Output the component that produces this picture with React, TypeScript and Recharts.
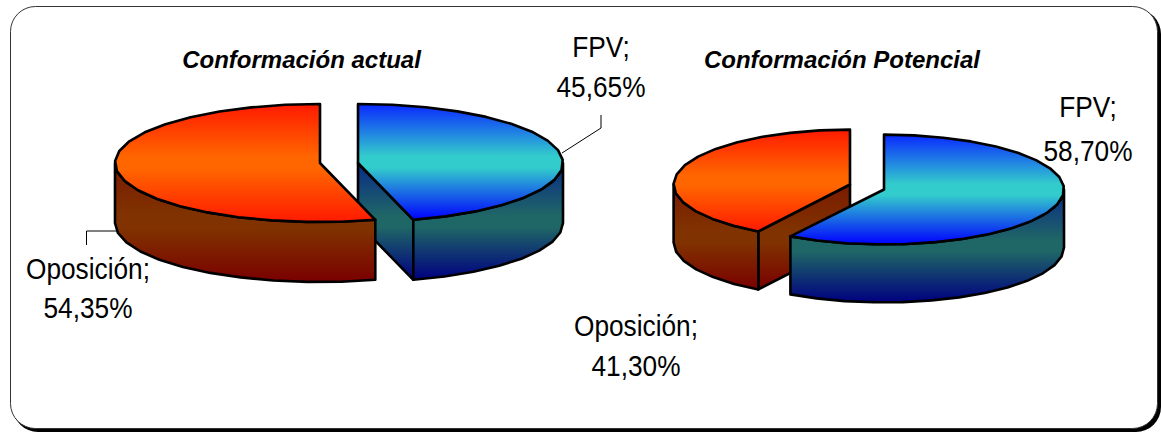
import React from "react";
import { PieChart, Pie } from "recharts";

const actualNames = ["FPV", "Oposición"];
const actualValues = [45.65, 54.35];
const potentialNames = ["Oposición", "FPV"];
const potentialValues = [41.3, 58.7];

const actualData = actualNames.map((name, i) => ({ name, value: actualValues[i] }));
const potentialData = potentialNames.map((name, i) => ({ name, value: potentialValues[i] }));

const TOP_FILL: any = { FPV: "url(#blueTop)", "Oposición": "url(#orangeTop)" };
const SIDE_FILL: any = { FPV: "url(#blueSide)", "Oposición": "url(#orangeSide)" };
const FONT = "'Liberation Sans', Arial, sans-serif";

// clockwise degrees from 12 o'clock -> point on the flattened ellipse
const pt = (cx: number, cy: number, rx: number, ry: number, deg: number) => {
  const r = (deg * Math.PI) / 180;
  return [cx + rx * Math.sin(r), cy - ry * Math.cos(r)];
};

const arc = (cx: number, cy: number, rx: number, ry: number, from: number, to: number) => {
  const pts = [];
  const n = Math.max(1, Math.ceil(Math.abs(to - from) / 10));
  for (let i = 0; i <= n; i++) {
    pts.push(pt(cx, cy, rx, ry, from + ((to - from) * i) / n));
  }
  return pts;
};

const toPath = (pts: number[][]) =>
  "M" + pts.map((p) => `${p[0].toFixed(1)},${p[1].toFixed(1)}`).join("L") + "Z";

const sliceShape = (ratio: number, depth: number, offsets: any) => (props: any) => {
  const { cx, cy, outerRadius, startAngle, endAngle, name } = props;
  const [dx, dy, shrink] = offsets[name];
  const x = cx + dx;
  const y = cy + dy;
  const rx = outerRadius * shrink;
  const ry = outerRadius * ratio;
  const a = ((90 - startAngle) % 360 + 360) % 360;
  const b = a + Math.abs(endAngle - startAngle);

  const faces = [];
  const lineProps = { stroke: "#000", strokeWidth: 2.6, strokeLinejoin: "round" as const };
  const wall = (deg: number) => {
    const e = pt(x, y, rx, ry, deg);
    return toPath([[x, y], e, [e[0], e[1] + depth], [x, y + depth]]);
  };
  const s = Math.sin((a * Math.PI) / 180);
  const t = Math.sin((b * Math.PI) / 180);
  if (s < -0.001) faces.push(<path key="w1" d={wall(a)} fill={SIDE_FILL[name]} {...lineProps} />);
  if (t > 0.001) faces.push(<path key="w2" d={wall(b)} fill={SIDE_FILL[name]} {...lineProps} />);

  const from = Math.max(a, 90);
  const to = Math.min(b, 270);
  if (to > from) {
    const upper = arc(x, y, rx, ry, from, to);
    const lower = arc(x, y + depth, rx, ry, to, from);
    faces.push(<path key="o" d={toPath([...upper, ...lower])} fill={SIDE_FILL[name]} {...lineProps} />);
  }
  faces.push(
    <path key="t" d={toPath([[x, y], ...arc(x, y, rx, ry, a, b)])} fill={TOP_FILL[name]} {...lineProps} />
  );
  return <g>{faces}</g>;
};

const pct = (v: number) => v.toFixed(2).replace(".", ",") + "%";

const Txt = ({ x, y, children }: any) => (
  <text
    transform={`translate(${x},${y}) scale(0.875,1)`}
    textAnchor="middle"
    fontFamily={FONT}
    fontSize={30}
    fill="#000"
  >
    {children}
  </text>
);

const sliceLabel = (places: any) => (props: any) => {
  const { name, value } = props;
  const p = places[name];
  return (
    <g key={name}>
      <Txt x={p.x} y={p.y1}>{name};</Txt>
      <Txt x={p.x} y={p.y2}>{pct(value)}</Txt>
      {p.leader && <polyline points={p.leader} fill="none" stroke="#000" strokeWidth={1} />}
    </g>
  );
};

const actualPlaces = {
  FPV: { x: 601, y1: 57, y2: 97, leader: "601,115 601,128 562,153" },
  "Oposición": { x: 88, y1: 279, y2: 318, leader: "86.5,245 86.5,231 116,231" },
};
const potentialPlaces = {
  FPV: { x: 1088, y1: 117, y2: 161 },
  "Oposición": { x: 636, y1: 336, y2: 376 },
};

const actualOffsets = { FPV: [19, 0, 1], "Oposición": [-19, 0, 1] };
const potentialOffsets = { FPV: [17, 2.5, 1], "Oposición": [-17, -2.5, 0.98] };

const Stops = ({ edge1, mid, edge2 }: any) => (
  <>
    <stop offset="0" stopColor={edge1} />
    <stop offset="0.45" stopColor={mid} />
    <stop offset="0.55" stopColor={mid} />
    <stop offset="1" stopColor={edge2} />
  </>
);

export default function App() {
  // first slice of the second pie starts where FPV ends, so FPV paints on top
  const potentialStart = 90 - (potentialValues[1] / 100) * 360;
  return (
    <div style={{ position: "absolute", left: 0, top: 0, width: 1161, height: 433, background: "#fff" }}>
      <PieChart width={1161} height={433} margin={{ top: 0, right: 0, bottom: 0, left: 0 }}>
        <defs>
          <linearGradient id="blueTop" x1="0" y1="0" x2="0" y2="1">
            <Stops edge1="#0a28ff" mid="#33CCCC" edge2="#0000ff" />
          </linearGradient>
          <linearGradient id="orangeTop" x1="0" y1="0" x2="0" y2="1">
            <Stops edge1="#ff1a00" mid="#FF6600" edge2="#ff1a00" />
          </linearGradient>
          <linearGradient id="blueSide" x1="0" y1="0" x2="0" y2="1">
            <Stops edge1="#0a2a86" mid="#1f6666" edge2="#000080" />
          </linearGradient>
          <linearGradient id="orangeSide" x1="0" y1="0" x2="0" y2="1">
            <Stops edge1="#7a1a00" mid="#803300" edge2="#7a0000" />
          </linearGradient>
        </defs>
        <rect x={13} y={9} width={1148} height={423} rx={25} fill="#000" />
        <rect x={10.5} y={6.5} width={1147} height={422} rx={25} fill="#fff" stroke="#333" strokeWidth={1} />
        <text x={301.5} y={68} textAnchor="middle" fontFamily={FONT} fontSize={24} fontWeight="bold" fontStyle="italic">
          Conformación actual
        </text>
        <text x={842} y={68} textAnchor="middle" fontFamily={FONT} fontSize={24} fontWeight="bold" fontStyle="italic">
          Conformación Potencial
        </text>
        <Pie
          data={actualData}
          dataKey="value"
          nameKey="name"
          cx={339}
          cy={163}
          outerRadius={205}
          startAngle={90}
          endAngle={-270}
          stroke="none"
          isAnimationActive={false}
          shape={sliceShape(0.288, 60, actualOffsets)}
          label={sliceLabel(actualPlaces)}
          labelLine={false}
        />
        <Pie
          data={potentialData}
          dataKey="value"
          nameKey="name"
          cx={867}
          cy={187}
          outerRadius={180}
          startAngle={potentialStart}
          endAngle={potentialStart - 360}
          stroke="none"
          isAnimationActive={false}
          shape={sliceShape(0.305, 58, potentialOffsets)}
          label={sliceLabel(potentialPlaces)}
          labelLine={false}
        />
      </PieChart>
    </div>
  );
}
